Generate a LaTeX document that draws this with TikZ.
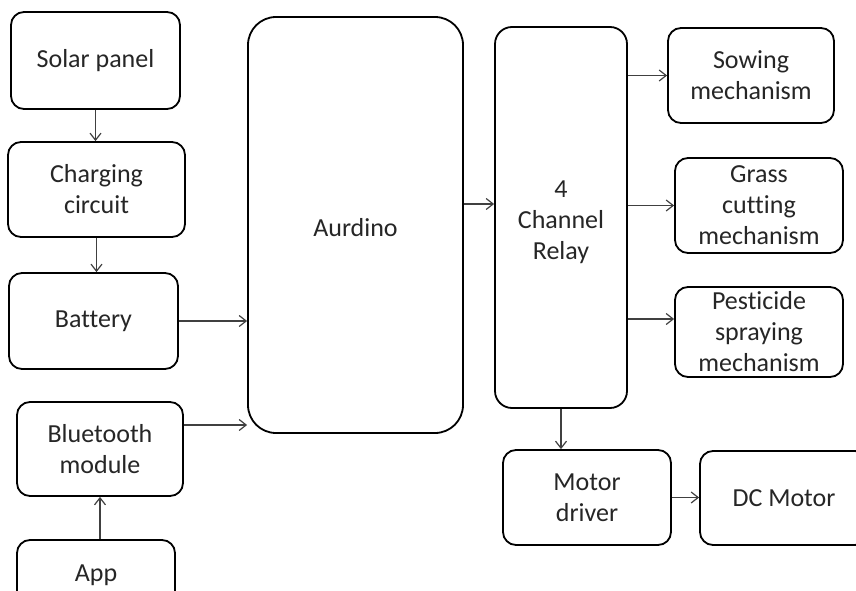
\documentclass[tikz,border=0pt]{standalone}
\usepackage{fontspec}
\setmainfont[Ligatures={NoCommon}]{Carlito}
\usetikzlibrary{arrows.meta}
\begin{document}
\begin{tikzpicture}[x=1pt,y=-1pt,
  blk/.style={draw=black, line width=1.8pt, rounded corners=13pt, inner sep=0pt,
    align=center, font=\fontsize{26}{31}\selectfont, text=black!85},
  conn/.style={draw=black!75, line width=1.2pt, -{Straight Barb[length=7pt,width=11pt,line width=1.2pt]}}
]
\useasboundingbox (0,0) rectangle (856,591);
\fill[white] (0,0) rectangle (856,591);
\clip (0,0) rectangle (856,591);

\node[blk, minimum width=169pt, minimum height=97pt] (solar) at (95.5,60.5) {Solar panel};
\node[blk, minimum width=177pt, minimum height=95pt] (charge) at (96.5,189.5) {Charging\\circuit};
\node[blk, minimum width=169pt, minimum height=96pt] (batt) at (93.5,321) {Battery};
\node[blk, minimum width=166pt, minimum height=94pt] (bt) at (100,449) {Bluetooth\\module};
\node[blk, minimum width=158pt, minimum height=70pt] (app) at (96,575) {App};

\node[blk, rounded corners=28pt, minimum width=215pt, minimum height=416pt] (ard) at (355.5,225) {\raisebox{-3pt}[\height][\depth]{Aurdino}};
\node[blk, rounded corners=17pt, minimum width=132pt, minimum height=381pt] (relay) at (561,217.5)
  {\raisebox{-5pt}[\height][\depth]{\begin{tabular}{@{}c@{}}4\\Channel\\Relay\end{tabular}}};

\node[blk, minimum width=166pt, minimum height=95pt] (sow) at (751,75.5) {Sowing\\mechanism};
\node[blk, minimum width=168pt, minimum height=95pt] (grass) at (759,205.5) {Grass\\cutting\\mechanism};
\node[blk, minimum width=168pt, minimum height=90pt] (pest) at (759,332) {Pesticide\\spraying\\mechanism};

\node[blk, minimum width=168pt, minimum height=95pt] (md) at (587,497.5) {Motor\\driver};
\node[blk, minimum width=168pt, minimum height=94pt] (dc) at (784,498) {DC Motor};

\draw[conn] (solar.south) -- (solar.south |- charge.north);
\draw[conn] (charge.south) -- (charge.south |- batt.north);
\draw[conn] (batt.east) -- (batt.east -| ard.west);
\draw[conn] ([yshift=24pt]bt.east) -- ([yshift=24pt]bt.east -| ard.west);
\draw[conn] (app.north -| bt.south) -- (bt.south);
\draw[conn] ([yshift=21pt]ard.east) -- ([yshift=21pt]ard.east -| relay.west);
\draw[conn] (sow.west -| relay.east) -- (sow.west);
\draw[conn] (grass.west -| relay.east) -- (grass.west);
\draw[conn] ([yshift=13pt]pest.west -| relay.east) -- ([yshift=13pt]pest.west);
\draw[conn] (relay.south) -- (relay.south |- md.north);
\draw[conn] (md.east) -- (md.east -| dc.west);
\end{tikzpicture}
\end{document}
